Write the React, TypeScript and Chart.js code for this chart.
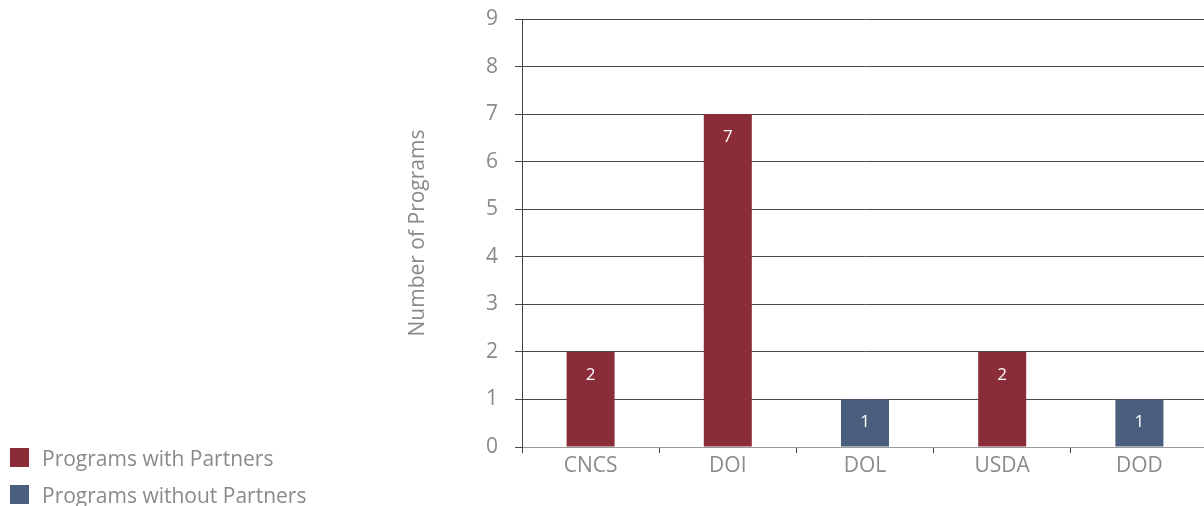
import React, { useEffect, useRef } from "react";
import { Chart, registerables } from "chart.js";

Chart.register(...registerables);

const categories = ["CNCS", "DOI", "DOL", "USDA", "DOD"];
const withPartners = [2, 7, null, 2, null];
const withoutPartners = [null, null, 1, null, 1];
const seriesNames = ["Programs with Partners", "Programs without Partners"];
const seriesColors = ["#8A2D38", "#4A5E7E"];
const yTicks = [0, 1, 2, 3, 4, 5, 6, 7, 8, 9];
const yTitle = "Number of Programs";

const FONT = "'Open Sans', 'Noto Sans', sans-serif";
const TEXT = "#8a8a8a";

const labelPlugin = {
  id: "barLabels",
  afterDatasetsDraw(chart: any) {
    const ctx = chart.ctx;
    ctx.save();
    ctx.fillStyle = "#ffffff";
    ctx.font = `17px ${FONT}`;
    ctx.textAlign = "center";
    ctx.textBaseline = "middle";
    chart.data.datasets.forEach((ds: any, i: number) => {
      const meta = chart.getDatasetMeta(i);
      meta.data.forEach((bar: any, j: number) => {
        const v = ds.data[j];
        if (v == null) return;
        ctx.fillText(String(v), bar.x, bar.y + 23);
      });
    });
    ctx.restore();
  },
};

export default function App() {
  const ref = useRef<HTMLCanvasElement>(null);
  useEffect(() => {
    if (!ref.current) return;
    const chart = new Chart(ref.current, {
      type: "bar",
      data: {
        labels: categories,
        datasets: [
          { label: seriesNames[0], data: withPartners, backgroundColor: seriesColors[0], barPercentage: 0.35, categoryPercentage: 1 },
          { label: seriesNames[1], data: withoutPartners, backgroundColor: seriesColors[1], barPercentage: 0.35, categoryPercentage: 1 },
        ],
      },
      plugins: [labelPlugin],
      options: {
        animation: false,
        responsive: true,
        maintainAspectRatio: false,
        layout: { padding: { left: 405, top: 19, right: 4, bottom: 0 } },
        plugins: { legend: { display: false }, tooltip: { enabled: false } },
        scales: {
          x: {
            stacked: true,
            grid: { drawOnChartArea: false, drawTicks: true, tickLength: 6, offset: true, color: "#444" },
            border: { display: true, color: "#999" },
            ticks: { color: TEXT, font: { family: FONT, size: 21 }, padding: 0 },
            afterFit: (s: any) => { s.height = 59; s.paddingLeft = 0; s.paddingRight = 0; },
          },
          y: {
            stacked: true,
            min: 0,
            max: 9,
            afterBuildTicks: (s: any) => { s.ticks = yTicks.map((v) => ({ value: v })); },
            grid: { color: "#4a4a4a", lineWidth: 1, tickLength: 7 },
            border: { display: true, color: "#444" },
            ticks: { color: TEXT, font: { family: FONT, size: 21 }, padding: 17 },
            title: { display: true, text: yTitle, color: TEXT, font: { family: FONT, size: 21 }, padding: 0 },
            afterFit: (s: any) => { s.width = 117; s.paddingTop = 0; s.paddingBottom = 0; },
          },
        },
      },
    });
    return () => chart.destroy();
  }, []);

  return (
    <div style={{ position: "fixed", left: 0, top: 0, width: 1204, height: 506, overflow: "hidden", background: "#fff" }}>
      <div style={{ position: "absolute", left: 0, top: 0, width: 1212, height: 506 }}>
        <canvas ref={ref} />
      </div>
      <div style={{ position: "absolute", left: 10, top: 439, fontFamily: FONT, fontSize: 21, color: TEXT }}>
        {seriesNames.map((n, i) => (
          <div key={n} style={{ display: "flex", alignItems: "center", height: 37 }}>
            <span style={{ display: "inline-block", width: 19, height: 19, background: seriesColors[i], marginRight: 13 }} />
            <span>{n}</span>
          </div>
        ))}
      </div>
    </div>
  );
}
